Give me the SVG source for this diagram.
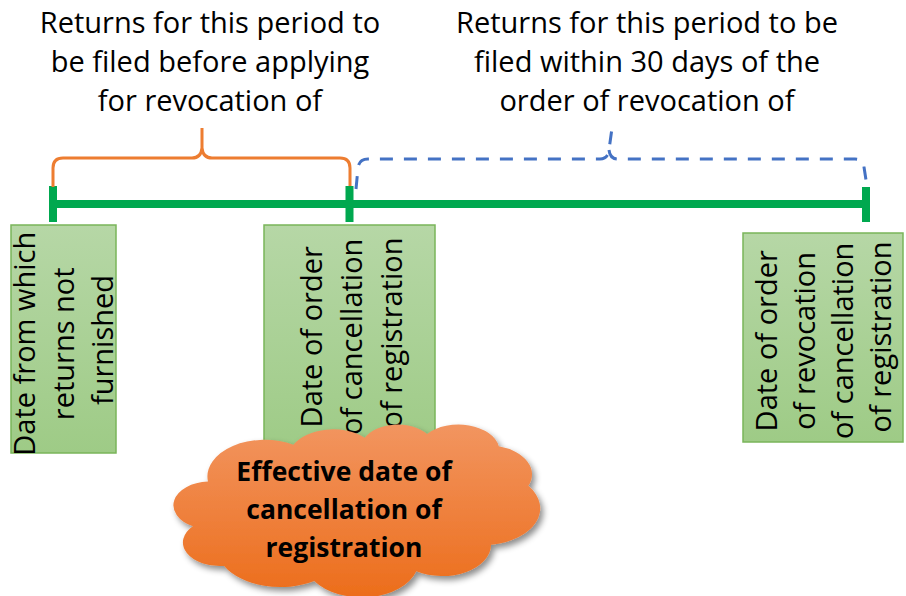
<svg xmlns="http://www.w3.org/2000/svg" width="906" height="596" viewBox="0 0 906 596">
  <defs>
    <linearGradient id="boxFill" x1="0" y1="0" x2="0" y2="1">
      <stop offset="0" stop-color="#B6D7A6"/>
      <stop offset="1" stop-color="#9ECB86"/>
    </linearGradient>
    <linearGradient id="cloudFill" x1="0" y1="0" x2="0" y2="1">
      <stop offset="0" stop-color="#F29560"/>
      <stop offset="1" stop-color="#EC6D1B"/>
    </linearGradient>
    <filter id="softShadow" x="-10%" y="-10%" width="125%" height="130%">
      <feDropShadow dx="3" dy="4" stdDeviation="3" flood-color="#000" flood-opacity="0.45"/>
    </filter>
  </defs>
  <style>
    .lbl { font-family: "Open Sans", "Noto Sans", sans-serif; font-size: 29px; fill: #000; text-anchor: middle; }
    .bold { font-weight: bold; font-size: 26.5px; }
    .box { fill: url(#boxFill); stroke: #7AB55A; stroke-width: 1.5; }
    .axis { stroke: #00A84F; stroke-width: 8; fill: none; }
    .brace { fill: none; stroke-width: 3; stroke-linecap: butt; }
  </style>

  <!-- period captions -->
  <g id="caption-before">
    <text class="lbl" x="210" y="33">Returns for this period to</text>
    <text class="lbl" x="210" y="72">be filed before applying</text>
    <text class="lbl" x="210" y="111">for revocation of</text>
  </g>
  <g id="caption-within">
    <text class="lbl" x="647" y="33">Returns for this period to be</text>
    <text class="lbl" x="647" y="72">filed within 30 days of the</text>
    <text class="lbl" x="647" y="111">order of revocation of</text>
  </g>

  <!-- timeline, ticks and braces -->
  <g id="connectors">
    <path class="axis" d="M53,204 H867"/>
    <path class="axis" d="M53,186 V222 M349.5,186 V222 M866,187 V222"/>
    <path class="brace" stroke="#ED7D31" d="M53,187 V168 Q53,158 63,158 H192 Q201,158 202,148 V128 M202,148 Q203,158 212,158 H340 Q350,158 350,168 V186"/>
    <path class="brace" stroke="#4472C4" stroke-dasharray="13 11" d="M356,189 L358,168 Q359,159 368,159 H600 Q608,159 609,150 L612,128 M609,150 Q610,159 618,159 H855 Q863,159 864,167 L866,180"/>
  </g>

  <!-- date boxes -->
  <g id="date-not-furnished">
    <rect class="box" x="11" y="225" width="105" height="228"/>
    <text class="lbl" transform="translate(35,340) rotate(-90)">
      <tspan x="0" y="0">Date from which</tspan>
      <tspan x="0" y="39">returns not</tspan>
      <tspan x="0" y="78">furnished</tspan>
    </text>
  </g>
  <g id="date-cancellation-order">
    <rect class="box" x="264" y="225" width="171" height="228"/>
    <text class="lbl" transform="translate(322,333) rotate(-90)">
      <tspan x="0" y="0">Date of order</tspan>
      <tspan x="0" y="40">of cancellation</tspan>
      <tspan x="0" y="80">of registration</tspan>
    </text>
  </g>
  <g id="date-revocation-order">
    <rect class="box" x="743" y="233" width="160" height="209"/>
    <text class="lbl" transform="translate(777,337) rotate(-90)">
      <tspan x="0" y="0">Date of order</tspan>
      <tspan x="0" y="38">of revocation</tspan>
      <tspan x="0" y="76">of cancellation</tspan>
      <tspan x="0" y="114">of registration</tspan>
    </text>
  </g>

  <!-- cloud callout -->
  <g id="effective-date" filter="url(#softShadow)">
    <path fill="url(#cloudFill)" d="M207.96,481.48 A57.06,36.76 0 0 1 293.34,444.81 A45.06,29.07 0 0 1 364.75,437.73 A36.88,23.78 0 0 1 427.09,433.92 A41.04,26.38 0 0 1 498.79,446.30 A45.06,29.09 0 0 1 528.36,485.84 A57.25,36.88 0 0 1 491.06,544.81 A48.88,31.47 0 0 1 416.29,571.25 A57.05,36.86 0 0 1 314.26,581.06 A65.23,42.17 0 0 1 224.05,565.88 A36.84,23.67 0 0 1 192.85,526.20 A36.72,23.78 0 0 1 207.96,481.48 Z"/>
  </g>
  <g id="effective-date-label">
    <text class="lbl bold" x="344" y="481">Effective date of</text>
    <text class="lbl bold" x="344" y="519">cancellation of</text>
    <text class="lbl bold" x="344" y="557">registration</text>
  </g>
</svg>
